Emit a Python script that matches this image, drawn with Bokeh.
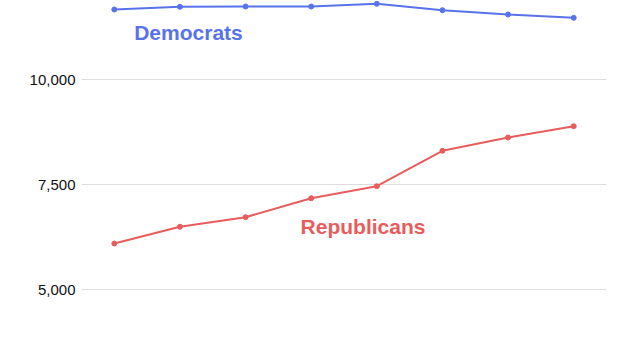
from bokeh.plotting import figure
from bokeh.models import ColumnDataSource, Range1d, FixedTicker, NumeralTickFormatter, Label
from bokeh.embed import file_html
from bokeh.resources import INLINE

years = [2010, 2011, 2012, 2013, 2014, 2015, 2016, 2017]
democrats = [11674, 11738, 11745, 11745, 11810, 11657, 11555, 11476]
republicans = [6102, 6500, 6729, 7181, 7467, 8310, 8626, 8895]
y_ticks = [5000, 7500, 10000]

BLUE = "#5873ea"
RED = "#e85c5c"

src = ColumnDataSource(dict(x=years, dem=democrats, rep=republicans))

p = figure(width=622, height=352, output_backend="svg", toolbar_location=None,
           x_range=Range1d(years[0] - 0.5, years[-1] + 0.5),
           y_range=Range1d(3507, 11888))
p.min_border_left = 81
p.min_border_right = 16
p.min_border_top = 0
p.min_border_bottom = 0
p.outline_line_color = None
p.background_fill_color = "white"
p.border_fill_color = "white"

p.xaxis.visible = False
p.xgrid.visible = False
p.ygrid.grid_line_color = "#dddddd"
p.ygrid.grid_line_width = 1
p.yaxis.ticker = FixedTicker(ticks=y_ticks)
p.yaxis.formatter = NumeralTickFormatter(format="0,0")
p.yaxis.axis_line_color = None
p.yaxis.major_tick_line_color = None
p.yaxis.minor_tick_line_color = None
p.yaxis.major_tick_out = 0
p.yaxis.major_tick_in = 0
p.yaxis.major_label_standoff = 6
p.yaxis.major_label_text_font = "Liberation Sans"
p.yaxis.major_label_text_font_size = "15px"
p.yaxis.major_label_text_color = "#111111"

p.line("x", "dem", source=src, line_color=BLUE, line_width=2)
p.scatter("x", "dem", source=src, size=5, fill_color=BLUE, line_color=BLUE)
p.line("x", "rep", source=src, line_color=RED, line_width=2)
p.scatter("x", "rep", source=src, size=5, fill_color=RED, line_color=RED)

p.add_layout(Label(x=2011.13, y=11125, text="Democrats", text_color=BLUE,
                   text_font="Liberation Sans", text_font_style="bold",
                   text_font_size="21px", text_align="center", text_baseline="middle"))
p.add_layout(Label(x=2013.79, y=6510, text="Republicans", text_color=RED,
                   text_font="Liberation Sans", text_font_style="bold",
                   text_font_size="21px", text_align="center", text_baseline="middle"))

open("out.html", "w").write(file_html(p, INLINE))
